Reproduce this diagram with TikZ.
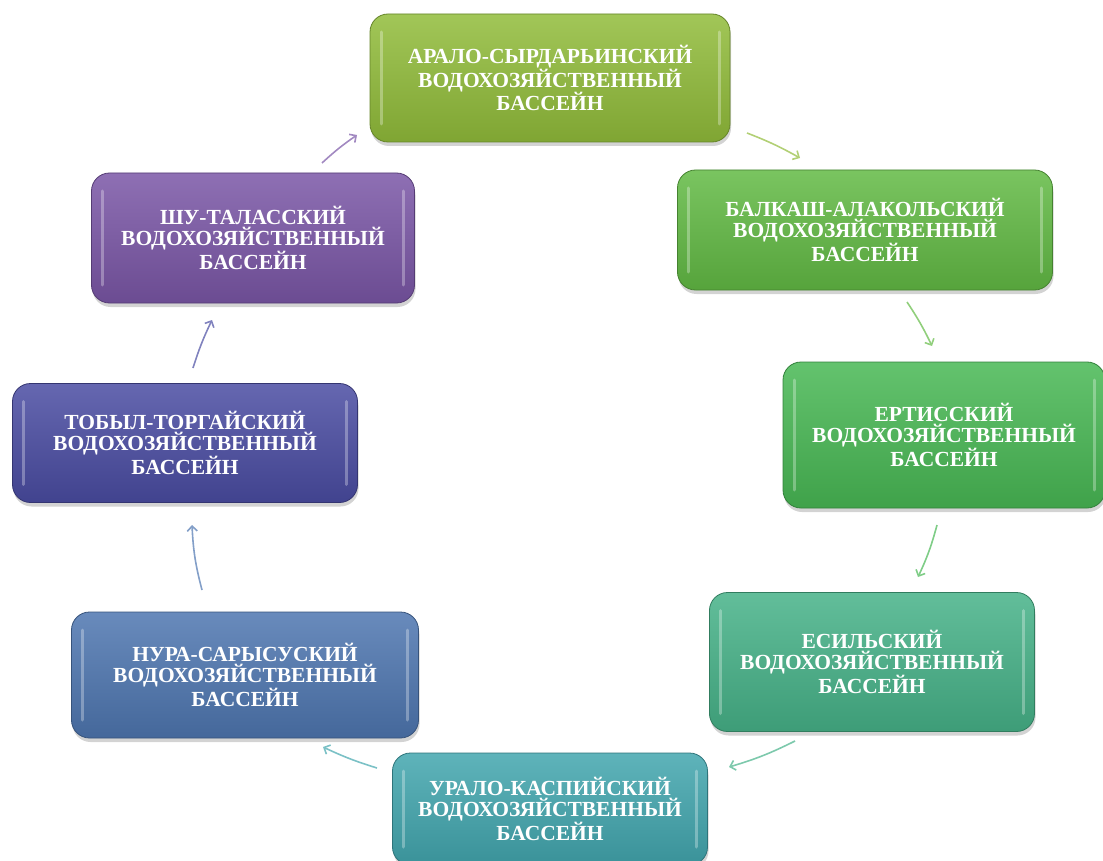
\documentclass[tikz,border=0pt]{standalone}
\usepackage{fontspec}
\setmainfont{Liberation Serif}
\usetikzlibrary{shadows, arrows.meta, positioning}

\definecolor{aral}{RGB}{145,188,58}
\definecolor{balkash}{RGB}{98,186,68}
\definecolor{ertis}{RGB}{72,184,84}
\definecolor{esil}{RGB}{70,178,136}
\definecolor{ural}{RGB}{66,166,174}
\definecolor{nura}{RGB}{78,118,176}
\definecolor{tobyl}{RGB}{74,76,162}
\definecolor{shu}{RGB}{122,86,166}

\begin{document}
\begin{tikzpicture}[x=1pt, y=-1pt,
  basin/.style={rounded corners=18pt, draw=#1!70!black, line width=0.8pt,
    top color=#1!85!white, bottom color=#1!88!black, text=white,
    align=center, inner sep=0pt,
    font=\fontsize{21.5}{21.5}\selectfont\bfseries,
    drop shadow={shadow xshift=1pt, shadow yshift=-4pt, opacity=0.35},
    path picture={
      \draw[white, opacity=0.3, line width=3pt, line cap=round]
        ([shift={(11pt,-18pt)}]path picture bounding box.north west)
        -- ([shift={(11pt,18pt)}]path picture bounding box.south west);
      \draw[white, opacity=0.3, line width=3pt, line cap=round]
        ([shift={(-11pt,-18pt)}]path picture bounding box.north east)
        -- ([shift={(-11pt,18pt)}]path picture bounding box.south east);
    }},
  flow/.style={-{Straight Barb[length=5pt, width=10pt]}, line width=1.6pt, #1!70!white}
]
\useasboundingbox (0,0) rectangle (1103,861);

% basins
\node[basin=aral, minimum width=360pt, minimum height=128pt] (aralsyr) at (550,78)
  {АРАЛО-СЫРДАРЬИНСКИЙ\\ВОДОХОЗЯЙСТВЕННЫЙ\\БАССЕЙН};
\node[basin=balkash, minimum width=375pt, minimum height=120pt] (balkash) at (865,230)
  {БАЛКАШ-АЛАКОЛЬСКИЙ\\ВОДОХОЗЯЙСТВЕННЫЙ\\БАССЕЙН};
\node[basin=ertis, minimum width=322pt, minimum height=146pt] (ertis) at (944,435)
  {ЕРТИССКИЙ\\ВОДОХОЗЯЙСТВЕННЫЙ\\БАССЕЙН};
\node[basin=esil, minimum width=325pt, minimum height=139pt] (esil) at (872,662)
  {ЕСИЛЬСКИЙ\\ВОДОХОЗЯЙСТВЕННЫЙ\\БАССЕЙН};
\node[basin=ural, minimum width=315pt, minimum height=112pt] (ural) at (550,809)
  {УРАЛО-КАСПИЙСКИЙ\\ВОДОХОЗЯЙСТВЕННЫЙ\\БАССЕЙН};
\node[basin=nura, minimum width=347pt, minimum height=126pt] (nura) at (245,675)
  {НУРА-САРЫСУСКИЙ\\ВОДОХОЗЯЙСТВЕННЫЙ\\БАССЕЙН};
\node[basin=tobyl, minimum width=345pt, minimum height=119pt] (tobyl) at (185,443)
  {ТОБЫЛ-ТОРГАЙСКИЙ\\ВОДОХОЗЯЙСТВЕННЫЙ\\БАССЕЙН};
\node[basin=shu, minimum width=323pt, minimum height=130pt] (shu) at (253,238)
  {ШУ-ТАЛАССКИЙ\\ВОДОХОЗЯЙСТВЕННЫЙ\\БАССЕЙН};

% arrow ends
\coordinate (aral-out) at (747,133);   \coordinate (balkash-in) at (800,158);
\coordinate (balkash-out) at (907,302); \coordinate (ertis-in) at (932,346);
\coordinate (ertis-out) at (937,525);   \coordinate (esil-in) at (918,577);
\coordinate (esil-out) at (795,741);    \coordinate (ural-in) at (729,767);
\coordinate (ural-out) at (377,768);    \coordinate (nura-in) at (323,747);
\coordinate (nura-out) at (202,590);    \coordinate (tobyl-in) at (192,525);
\coordinate (tobyl-out) at (193,368);   \coordinate (shu-in) at (212,320);
\coordinate (shu-out) at (322,163);     \coordinate (aral-in) at (357,135);

\draw[flow=aral] (aral-out) to[bend left=4] (balkash-in);
\draw[flow=balkash] (balkash-out) to[bend left=4] (ertis-in);
\draw[flow=ertis] (ertis-out) to[bend left=5] (esil-in);
\draw[flow=esil] (esil-out) to[bend left=5] (ural-in);
\draw[flow=ural] (ural-out) to[bend left=4] (nura-in);
\draw[flow=nura] (nura-out) to[bend left=6] (tobyl-in);
\draw[flow=tobyl] (tobyl-out) to[bend left=4] (shu-in);
\draw[flow=shu] (shu-out) to[bend left=4] (aral-in);
\end{tikzpicture}
\end{document}
